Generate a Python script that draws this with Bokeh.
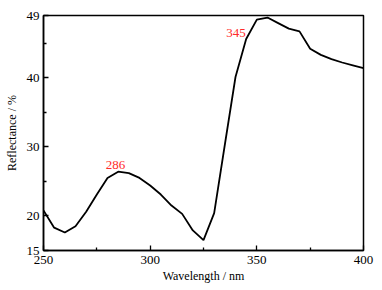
from bokeh.plotting import figure
from bokeh.models import FixedTicker, Range1d, ColumnDataSource
from bokeh.core.properties import value
from bokeh.embed import file_html
from bokeh.resources import INLINE

wavelength = [250, 255, 260, 265, 270, 275, 280, 285, 290, 295, 300, 305, 310, 315, 320, 325,
              330, 335, 340, 345, 350, 355, 360, 365, 370, 375, 380, 385, 390, 395, 400]
reflectance = [20.8, 18.3, 17.6, 18.5, 20.6, 23.1, 25.5, 26.4, 26.2, 25.5, 24.4, 23.1, 21.5, 20.3, 17.9, 16.5,
               20.4, 30.3, 40.1, 45.6, 48.4, 48.7, 47.9, 47.1, 46.7, 44.2, 43.3, 42.7, 42.2, 41.8, 41.4]
peak_labels = ["286", "345"]
peak_x = [283.8, 340.2]
peak_y = [27.3, 46.4]

y_ticks = [15, 20, 30, 40, 49]
y_minor = [25, 35, 45]
x_ticks = [250, 300, 350, 400]
x_minor = [275, 325, 375]

FONT = "Times New Roman"

p = figure(width=380, height=289, output_backend="svg", toolbar_location=None,
           x_range=Range1d(250, 400), y_range=Range1d(15, 49),
           min_border_left=43, min_border_right=17, min_border_top=15, min_border_bottom=39)

p.line(wavelength, reflectance, line_color="black", line_width=1.8)

src = ColumnDataSource(dict(x=peak_x, y=peak_y, t=peak_labels))
p.text(x="x", y="y", text="t", source=src, text_color="#ff2a2a",
       text_font=value(FONT), text_font_size="13px", text_align="center",
       text_baseline="alphabetic")

p.grid.visible = False
p.outline_line_color = "black"
p.outline_line_width = 1.5
p.background_fill_color = "white"
p.border_fill_color = "white"

for ax in (p.xaxis[0], p.yaxis[0]):
    ax.axis_line_color = "black"
    ax.axis_line_width = 1.5
    ax.major_tick_in = 5
    ax.major_tick_out = 0
    ax.minor_tick_in = 3
    ax.minor_tick_out = 0
    ax.major_tick_line_width = 1.3
    ax.minor_tick_line_width = 1.3
    ax.major_label_text_font = FONT
    ax.major_label_text_font_size = "13px"
    ax.major_label_text_color = "black"
    ax.axis_label_text_font = FONT
    ax.axis_label_text_font_size = "12px"
    ax.axis_label_text_font_style = "normal"
    ax.axis_label_text_color = "black"

p.xaxis[0].ticker = FixedTicker(ticks=x_ticks, minor_ticks=x_minor)
p.yaxis[0].ticker = FixedTicker(ticks=y_ticks, minor_ticks=y_minor)
p.xaxis[0].axis_label = "Wavelength / nm"
p.yaxis[0].axis_label = "Reflectance / %"
p.xaxis[0].major_label_standoff = 5
p.xaxis[0].axis_label_standoff = 2
p.yaxis[0].major_label_standoff = 4
p.yaxis[0].axis_label_standoff = 5

open("out.html", "w").write(file_html(p, INLINE))
